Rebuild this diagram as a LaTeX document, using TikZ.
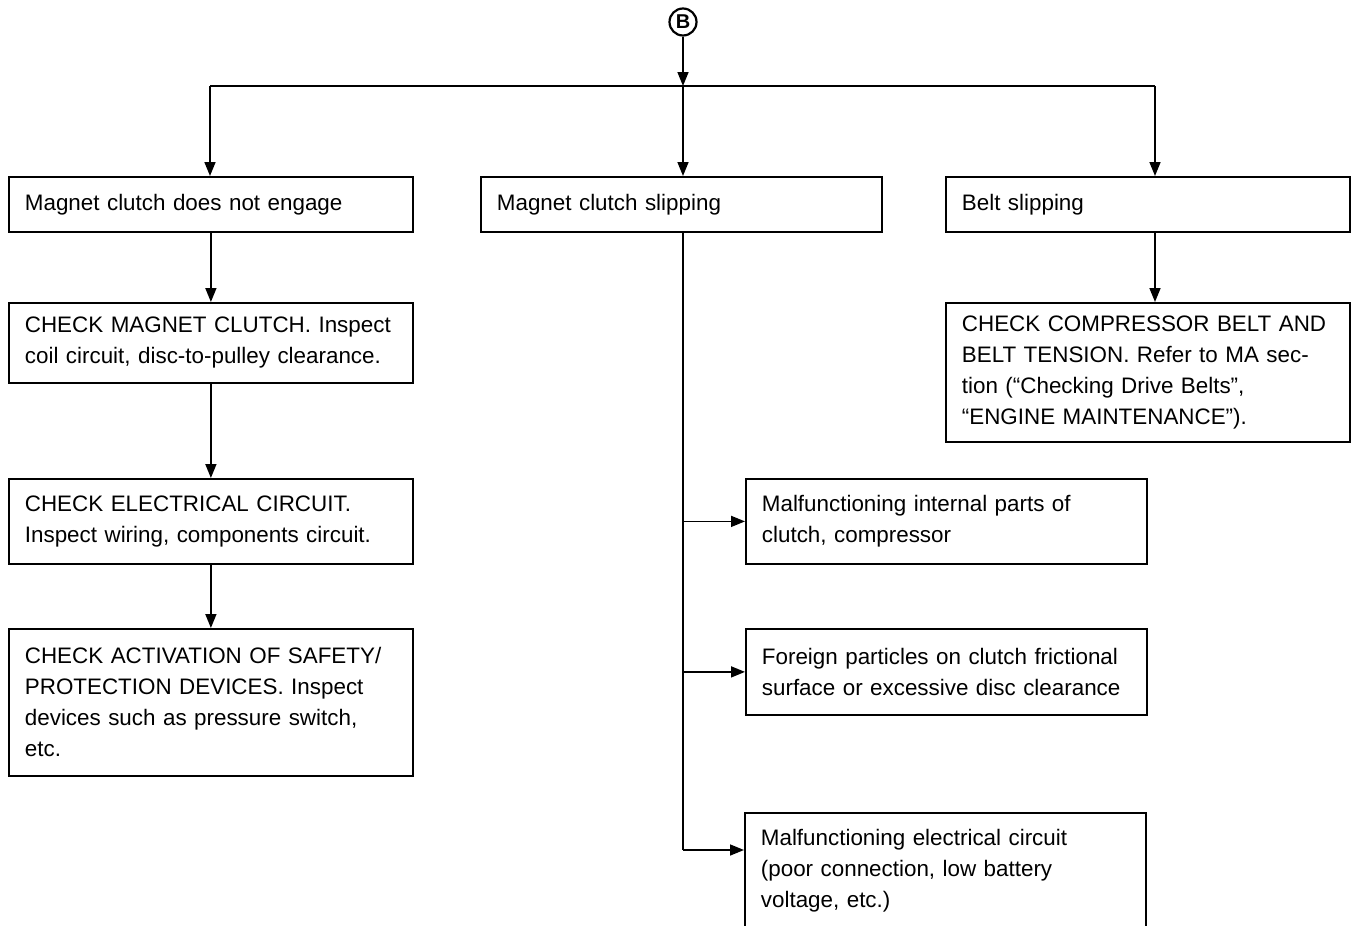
\documentclass[tikz,border=0pt]{standalone}
\usepackage{fontspec}
\setmainfont{Liberation Sans}
\usetikzlibrary{arrows.meta, positioning}

\begin{document}
\begin{tikzpicture}[
    x=0.5pt, y=-0.5pt,
    font=\fontsize{11.2}{15.5}\selectfont,
    box/.style={rectangle, draw=black, line width=0.9pt, anchor=north west, text width=186pt, inner xsep=8pt, align=left, minimum height=27.5pt},
    narrow/.style={text width=184.5pt},
    start/.style={circle, draw=black, line width=1.1pt, minimum size=13.5pt, inner sep=0pt, font=\fontsize{10}{10}\selectfont\bfseries},
    arrow/.style={-{Triangle[length=7pt, width=5.5pt]}, line width=0.8pt},
    link/.style={line width=0.8pt}
]
\useasboundingbox (0,0) rectangle (1356,926);
\clip (0,0) rectangle (1356,926);

\node (b) [start] at (683,22) {B};
\coordinate (split) at (683,86);
\coordinate (jl) at (210,86);
\coordinate (jr) at (1155,86);

% three symptoms
\node (engage) [box] at (8,176) {Magnet clutch does not engage};
\node (slip) [box, narrow] at (480,176) {Magnet clutch slipping};
\node (belt) [box] at (945,176) {Belt slipping};

% left column
\node (coil) [box, minimum height=40pt] at (8,302) {CHECK MAGNET CLUTCH. Inspect\\coil circuit, disc-to-pulley clearance.};
\node (elec) [box, minimum height=42.5pt] at (8,478) {CHECK ELECTRICAL CIRCUIT.\\Inspect wiring, components circuit.};
\node (safety) [box, minimum height=73.5pt] at (8,628) {CHECK ACTIVATION OF SAFETY/\\PROTECTION DEVICES. Inspect\\devices such as pressure switch,\\etc.};

% right column
\node (tension) [box, minimum height=69.5pt] at (945,302) {CHECK COMPRESSOR BELT AND\\BELT TENSION. Refer to MA sec-\\tion (``Checking Drive Belts'',\\``ENGINE MAINTENANCE'').};

% causes of slipping
\node (parts) [box, narrow, minimum height=42.5pt] at (745,478) {Malfunctioning internal parts of\\clutch, compressor};
\node (foreign) [box, narrow, minimum height=43pt] at (745,628) {Foreign particles on clutch frictional\\surface or excessive disc clearance};
\node (circuit) [box, narrow, minimum height=58pt] at (744,812) {Malfunctioning electrical circuit\\(poor connection, low battery\\voltage, etc.)};
\coordinate (tail) at (683,850);

\draw [arrow] (b) -- (split);
\draw [link] (jl) -- (jr);
\draw [arrow] (jl) -- (jl |- engage.north);
\draw [arrow] (split) -- (split |- slip.north);
\draw [arrow] (jr) -- (jr |- belt.north);
\draw [arrow] (engage) -- (coil);
\draw [arrow] (coil) -- (elec);
\draw [arrow] (elec) -- (safety);
\draw [arrow] (belt.south -| jr) -- (tension.north -| jr);
\draw [link] (slip.south -| split) -- (tail);
\draw [arrow] (parts.west -| tail) -- (parts.west);
\draw [arrow] (foreign.west -| tail) -- (foreign.west);
\draw [arrow] (tail) -- (tail -| circuit.west);
\end{tikzpicture}
\end{document}
